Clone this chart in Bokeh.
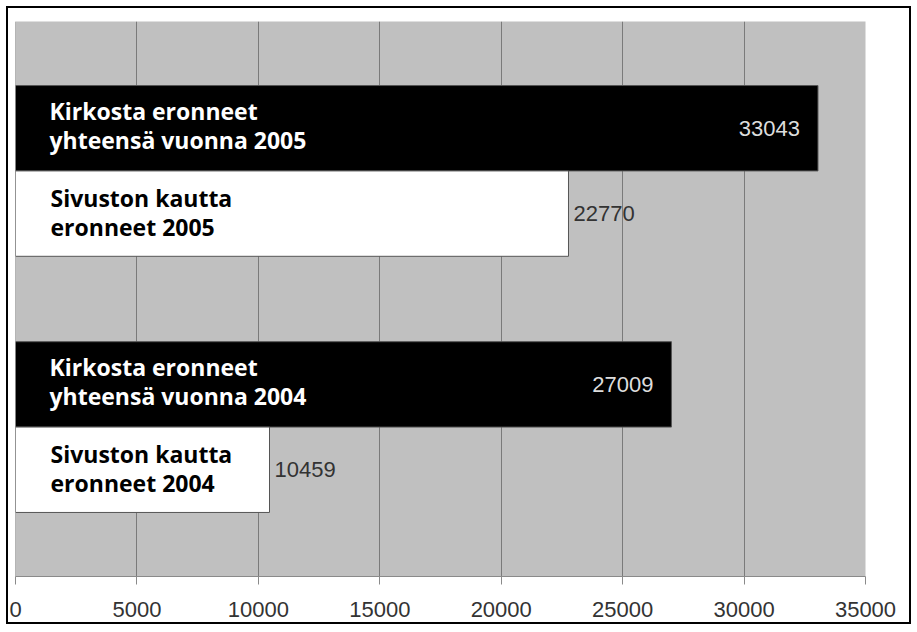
from bokeh.plotting import figure
from bokeh.models import Range1d, Span, FixedTicker, ColumnDataSource
from bokeh.core.properties import value
from bokeh.embed import file_html
from bokeh.resources import INLINE

# ---- data ----
years = ["2005", "2004"]
total_values = [33043, 27009]
site_values = [22770, 10459]
total_labels = ["Kirkosta eronneet\nyhteensä vuonna 2005",
                "Kirkosta eronneet\nyhteensä vuonna 2004"]
site_labels = ["Sivuston kautta\neronneet 2005",
               "Sivuston kautta\neronneet 2004"]
x_ticks = [0, 5000, 10000, 15000, 20000, 25000, 30000, 35000]

# ---- layout of groups (top group first) ----
n = len(years)
centers = [1.75 + 3 * (n - 1 - i) for i in range(n)]
y_total = [c + 0.5 for c in centers]
y_site = [c - 0.5 for c in centers]

p = figure(width=905, height=618, output_backend="svg", toolbar_location=None,
           x_range=Range1d(0, 35000), y_range=Range1d(0, 6.5),
           min_border_left=7, min_border_top=13, min_border_right=48,
           min_border_bottom=50)
p.styles = {"border": "2px solid black", "margin": "6px 0 0 6px"}
p.border_fill_color = "white"
p.outline_line_color = None
p.background_fill_color = "#c0c0c0"

# grid
p.xgrid.ticker = FixedTicker(ticks=x_ticks)
p.xgrid.grid_line_color = "#7a7a7a"
p.xgrid.grid_line_width = 1
p.ygrid.grid_line_color = None

# axes
p.yaxis.visible = False
p.xaxis.ticker = FixedTicker(ticks=x_ticks)
p.xaxis.axis_line_color = "#8a8a8a"
p.xaxis.major_tick_line_color = "#8a8a8a"
p.xaxis.major_tick_out = 8
p.xaxis.major_tick_in = 0
p.xaxis.minor_tick_line_color = None
p.xaxis.major_label_text_font = "Liberation Sans"
p.xaxis.major_label_text_font_size = "22px"
p.xaxis.major_label_text_color = "#333333"
p.xaxis.major_label_standoff = 17

p.add_layout(Span(location=0, dimension="height", line_color="#8a8a8a", line_width=1))

src_total = ColumnDataSource(dict(y=y_total, v=total_values, lab=total_labels,
                                  txt=[str(v) for v in total_values]))
src_site = ColumnDataSource(dict(y=y_site, v=site_values, lab=site_labels,
                                 txt=[str(v) for v in site_values]))

p.hbar(y="y", left=0, right="v", height=1, source=src_total,
       fill_color="black", line_color="#555555", line_width=1)
p.hbar(y="y", left=0, right="v", height=1, source=src_site,
       fill_color="white", line_color="#555555", line_width=1)

# category labels inside bars
p.text(x=0, y="y", text="lab", source=src_total, x_offset=34, y_offset=-3,
       text_align="left", text_baseline="middle", text_color="white",
       text_font=value("Open Sans"), text_font_style="bold", text_font_size="23px",
       text_line_height=0.9)
p.text(x=0, y="y", text="lab", source=src_site, x_offset=35, y_offset=-1,
       text_align="left", text_baseline="middle", text_color="black",
       text_font=value("Open Sans"), text_font_style="bold", text_font_size="23px",
       text_line_height=0.9)

# value labels
p.text(x="v", y="y", text="txt", source=src_total, x_offset=-18,
       text_align="right", text_baseline="middle", text_color="#dddddd",
       text_font=value("Liberation Sans"), text_font_size="22px")
p.text(x="v", y="y", text="txt", source=src_site, x_offset=5,
       text_align="left", text_baseline="middle", text_color="#333333",
       text_font=value("Liberation Sans"), text_font_size="22px")

open("out.html", "w").write(file_html(p, INLINE))
